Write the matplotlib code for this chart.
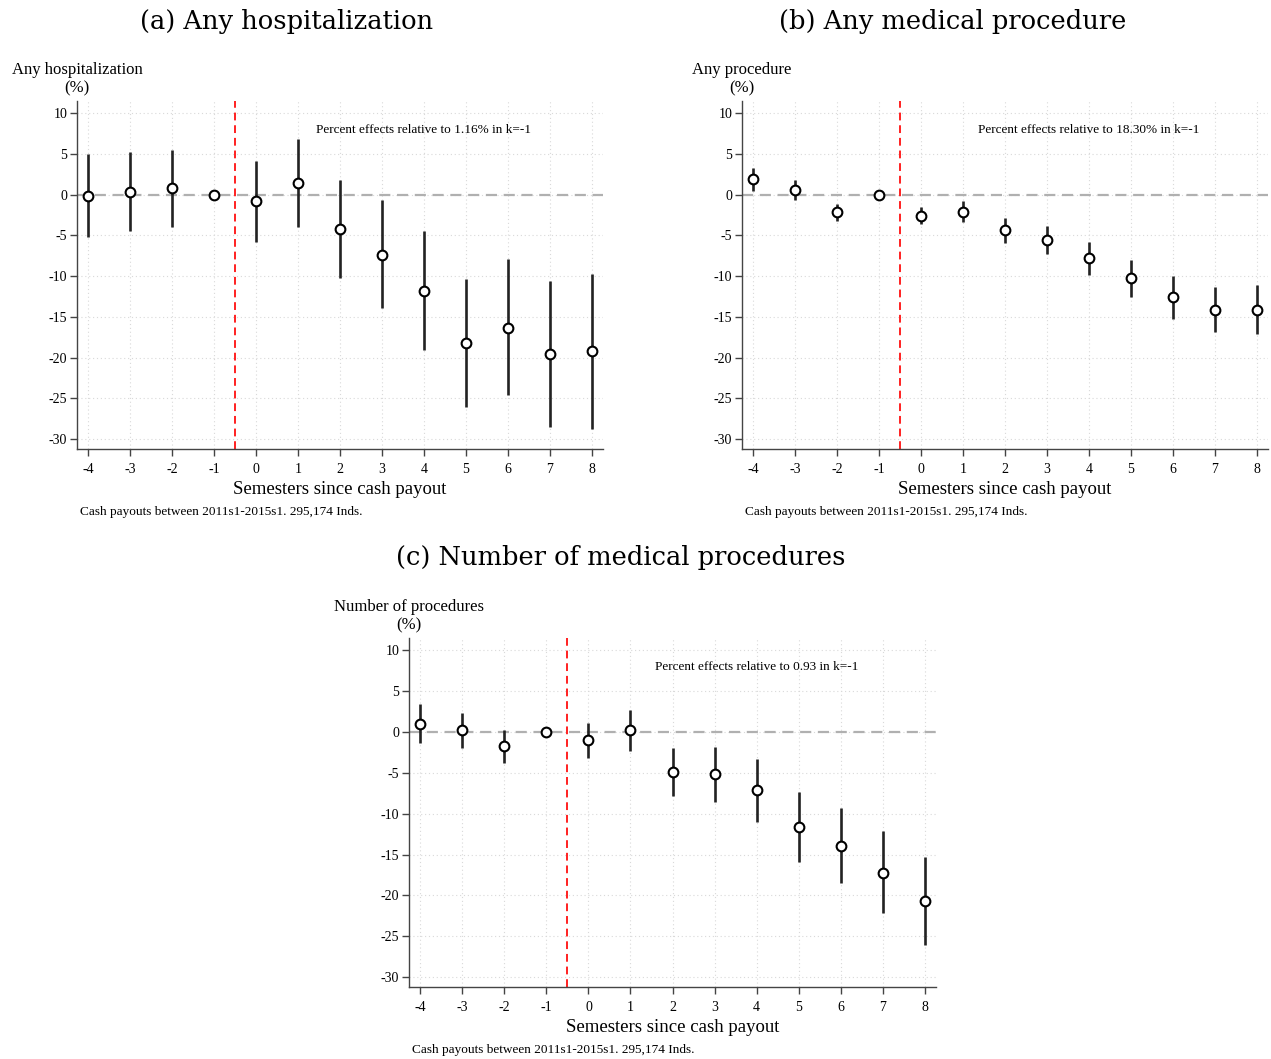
import matplotlib
matplotlib.use('Agg')
import matplotlib.pyplot as plt
import numpy as np

plt.rcParams['font.family'] = ['Liberation Serif', 'DejaVu Serif']
plt.rcParams['axes.unicode_minus'] = False

W, H = 1271, 1059

semesters = [-4, -3, -2, -1, 0, 1, 2, 3, 4, 5, 6, 7, 8]
yticks = [10, 5, 0, -5, -10, -15, -20, -25, -30]

# (a) any hospitalization
hosp_est = [-0.1, 0.35, 0.8, 0.0, -0.8, 1.4, -4.2, -7.35, -11.8, -18.2, -16.3, -19.6, -19.2]
hosp_hi = [5.0, 5.2, 5.5, 0.0, 4.1, 6.8, 1.8, -0.7, -4.4, -10.3, -7.9, -10.6, -9.7]
hosp_lo = [-5.2, -4.5, -4.0, 0.0, -5.8, -4.0, -10.2, -13.9, -19.1, -26.1, -24.6, -28.5, -28.7]

# (b) any medical procedure
proc_est = [1.9, 0.55, -2.15, 0.0, -2.55, -2.15, -4.35, -5.6, -7.8, -10.25, -12.6, -14.1, -14.1]
proc_hi = [3.3, 1.8, -1.15, 0.0, -1.45, -0.8, -2.85, -3.8, -5.8, -7.95, -10.0, -11.3, -11.1]
proc_lo = [0.5, -0.65, -3.25, 0.0, -3.65, -3.4, -5.9, -7.3, -9.85, -12.5, -15.2, -16.9, -17.1]

# (c) number of medical procedures
nproc_est = [1.0, 0.2, -1.75, 0.0, -1.0, 0.2, -4.9, -5.15, -7.15, -11.65, -13.9, -17.2, -20.7]
nproc_hi = [3.4, 2.3, 0.25, 0.0, 1.05, 2.7, -2.0, -1.85, -3.25, -7.4, -9.3, -12.1, -15.25]
nproc_lo = [-1.4, -1.95, -3.8, 0.0, -3.2, -2.35, -7.85, -8.55, -11.0, -15.9, -18.5, -22.2, -26.1]

note = "Cash payouts between 2011s1-2015s1. 295,174 Inds."

fig = plt.figure(figsize=(W / 100, H / 100), dpi=100)


def fx(px):
    return px / W


def fy(py):
    return 1 - py / H


def panel(box, est, lo, hi, ytitle, base, title, title_x, title_y):
    left, top, right, bottom = box
    ax = fig.add_axes([fx(left), fy(bottom), (right - left) / W, (bottom - top) / H])
    ax.set_xlim(-4.27, 8.27)
    ax.set_ylim(-31.2, 11.5)
    # grid
    for x in semesters:
        ax.axvline(x, color='#d9d9d9', lw=0.8, ls=(0, (1, 2.5)), zorder=0)
    for y in yticks:
        ax.axhline(y, color='#d9d9d9', lw=0.8, ls=(0, (1, 2.5)), zorder=0)
    ax.axhline(0, color='#b0b0b0', lw=1.6, ls=(0, (5, 3)), zorder=1)
    ax.axvline(-0.5, color='#ff2020', lw=1.4, ls=(0, (4, 2.5)), zorder=2)
    ax.vlines(semesters, lo, hi, color='#222222', lw=1.9, zorder=3)
    ax.plot(semesters, est, 'o', ms=7, mfc='white', mec='black', mew=1.5, zorder=4)
    ax.text(4, 7.9, base, ha='center', va='center', fontsize=9.5)

    for s in ['top', 'right']:
        ax.spines[s].set_visible(False)
    for s in ['left', 'bottom']:
        ax.spines[s].set_color('#444444')
        ax.spines[s].set_linewidth(1.0)
    ax.set_xticks(semesters)
    ax.set_yticks(yticks)
    ax.tick_params(axis='both', colors='#444444', labelcolor='black', labelsize=10,
                   length=5, width=1.0)
    ax.tick_params(axis='x', pad=5)
    ax.tick_params(axis='y', pad=2)

    fig.text(fx(left), fy(top - 31), ytitle, ha='center', va='center', fontsize=12)
    fig.text(fx(left), fy(top - 13), '(%)', ha='center', va='center', fontsize=12)
    fig.text(fx((left + right) / 2), fy(bottom + 41), 'Semesters since cash payout',
             ha='center', va='center', fontsize=13.5)
    fig.text(fx(left + 3), fy(bottom + 63), note, ha='left', va='center', fontsize=9.5)
    fig.text(fx(title_x), fy(title_y), title, ha='center', va='center', fontsize=18.5,
             family=['DejaVu Serif'], fontweight='light')
    return ax


panel((77, 101, 603, 449), hosp_est, hosp_lo, hosp_hi, 'Any hospitalization',
      'Percent effects relative to 1.16% in k=-1', '(a) Any hospitalization', 287, 21)
panel((742, 101, 1268, 449), proc_est, proc_lo, proc_hi, 'Any procedure',
      'Percent effects relative to 18.30% in k=-1', '(b) Any medical procedure', 953, 21)
panel((409, 638, 936, 987), nproc_est, nproc_lo, nproc_hi, 'Number of procedures',
      'Percent effects relative to 0.93 in k=-1', '(c) Number of medical procedures', 621, 558)

fig.savefig('out.png', dpi=100, facecolor='white')
